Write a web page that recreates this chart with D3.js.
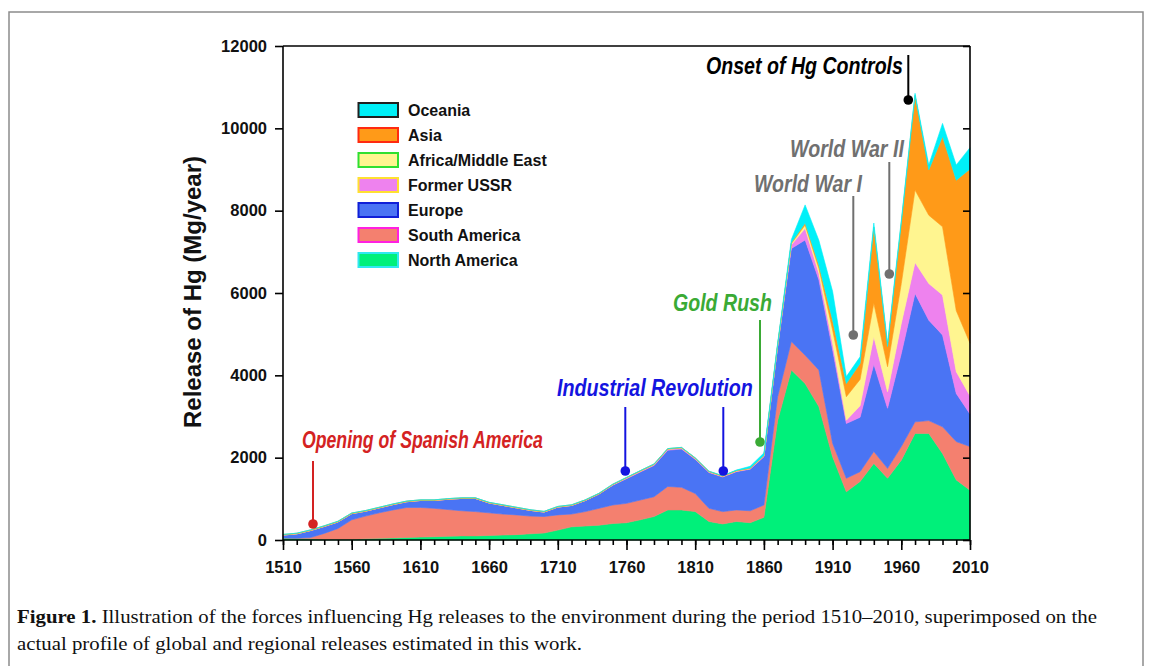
<!DOCTYPE html>
<html><head><meta charset="utf-8">
<script src="https://cdn.jsdelivr.net/npm/d3@7"></script>
<style>body{margin:0;background:#fff;} svg{display:block;}</style>
</head><body>
<svg id="c" width="1153" height="666"></svg>
<script>
// ---------------- DATA ----------------
const years = [1510,1520,1530,1540,1550,1560,1570,1580,1590,1600,
  1610,1620,1630,1640,1650,1660,1670,1680,1690,1700,
  1710,1720,1730,1740,1750,1760,1770,1780,1790,1800,
  1810,1820,1830,1840,1850,1860,1870,1880,1890,1900,
  1910,1920,1930,1940,1950,1960,1970,1980,1990,2000,2010];
const northAmerica = [50,40,30,20,20,20,30,40,50,60,
  70,80,90,100,100,110,120,130,150,170,
  240,320,340,360,400,420,490,570,730,730,
  690,450,390,450,420,550,2900,4130,3800,3240,
  2020,1170,1420,1860,1500,1940,2590,2590,2100,1460,1210];
const southAmerica = [0,5,30,140,260,470,550,620,680,730,
  720,690,650,610,590,550,510,480,430,400,
  370,310,350,410,450,470,480,480,570,550,
  440,320,300,280,290,300,580,690,690,890,
  330,330,240,290,240,330,280,310,650,930,1060];
const europe = [70,105,170,170,160,150,120,120,130,140,
  170,190,250,300,320,240,210,170,140,110,
  190,210,270,350,480,600,680,760,880,930,
  830,870,840,930,1010,1170,1220,2260,2800,2190,
  2270,1330,1320,2120,1460,2260,3120,2440,2230,1170,790];
const formerUSSR = [0,0,0,0,0,0,0,0,0,0,
  0,0,0,0,0,0,0,0,0,0,
  0,0,0,0,10,15,20,20,25,25,
  20,15,15,15,15,20,20,90,280,160,
  160,80,280,670,400,730,750,890,970,530,440];
const africaMiddleEast = [0,0,0,0,0,0,0,0,0,0,
  0,0,0,0,0,0,0,0,0,0,
  0,0,0,0,0,0,0,0,0,0,
  0,0,0,0,0,0,10,30,80,120,
  320,570,640,810,610,970,1760,1660,1660,1480,1280];
const asia = [15,15,15,15,15,15,15,15,15,15,
  15,15,15,15,15,15,15,15,15,15,
  15,15,15,15,15,15,15,15,15,15,
  15,15,15,15,15,15,10,20,50,80,
  240,320,390,1850,490,1470,2300,1100,2190,3170,4230];
const oceania = [0,0,0,0,0,0,0,0,0,0,
  0,0,0,0,0,0,0,0,0,0,
  0,0,0,0,0,0,0,0,0,0,
  0,0,0,10,40,60,40,80,440,600,
  700,170,160,100,80,60,50,120,320,370,520];

const seriesNames = ["North America","South America","Europe","Former USSR","Africa/Middle East","Asia","Oceania"];
const seriesValues = [northAmerica, southAmerica, europe, formerUSSR, africaMiddleEast, asia, oceania];
const fillColors = ["#00f07a","#f4806f","#4a74f4","#ee82ee","#fff590","#ff9a18","#00f0f8"];
const legendStroke = ["#30e8f0","#ff20e0","#1020d8","#ffe030","#30e030","#ff2a10","#202020"];

const yTicks = [0,2000,4000,6000,8000,10000,12000];
const xMajorTicks = [1510,1560,1610,1660,1710,1760,1810,1860,1910,1960,2010];

const annotations = [
  {text:"Opening of Spanish America", color:"#d42222", x:302, y:448, w:241, lx:313, y1:461, y2:524},
  {text:"Industrial Revolution", color:"#1414e0", x:557, y:396, w:196, lx:625.3, y1:407, y2:471},
  {text:"", color:"#1414e0", x:0, y:0, w:0, lx:723.3, y1:407, y2:471},
  {text:"Gold Rush", color:"#3aaa35", x:673, y:311, w:99, lx:760, y1:320, y2:442},
  {text:"World War I", color:"#707070", x:754, y:192, w:108, lx:853.3, y1:196, y2:335},
  {text:"World War II", color:"#707070", x:790, y:157, w:114, lx:889.3, y1:162, y2:274},
  {text:"Onset of Hg Controls", color:"#000000", x:706, y:74, w:197, lx:908.3, y1:55, y2:100}
];

const captionBold = "Figure 1.";
const captionLine1 = " Illustration of the forces influencing Hg releases to the environment during the period 1510\u20132010, superimposed on the";
const captionLine2 = "actual profile of global and regional releases estimated in this work.";

// ---------------- DRAW ----------------
const svg = d3.select("#c");
const sans = "'Liberation Sans', Arial, sans-serif";

// frame
svg.append("path").attr("d","M9,666V12H1143V666").attr("fill","none").attr("stroke","#8c8c8c").attr("stroke-width",1.5);

const x = d3.scaleLinear().domain([1510,2010]).range([283,970]);
const y = d3.scaleLinear().domain([0,12000]).range([540,46]);

const rows = years.map((yr,i)=>{
  const r = {year:yr};
  seriesNames.forEach((n,k)=> r[n] = seriesValues[k][i]);
  return r;
});
const stack = d3.stack().keys(seriesNames)(rows);
const area = d3.area().x(d=>x(d.data.year)).y0(d=>y(d[0])).y1(d=>y(d[1]));

svg.append("g").selectAll("path").data(stack).join("path")
  .attr("d", area)
  .attr("fill", (d,i)=>fillColors[i])
  .attr("stroke", (d,i)=>fillColors[i])
  .attr("stroke-width", 0.6);

// axes
const axisG = svg.append("g").attr("font-family", sans);
const minorYears = years;
axisG.append("g").attr("transform","translate(0,540)")
  .call(d3.axisBottom(x).tickValues(minorYears).tickSize(5).tickFormat(""))
  .call(g=>g.select(".domain").remove());
const xb = axisG.append("g").attr("transform","translate(0,540)")
  .call(d3.axisBottom(x).tickValues(xMajorTicks).tickSize(10).tickPadding(11).tickFormat(d3.format("d")));
xb.select(".domain").attr("d","M283,0H970");
const yl = axisG.append("g").attr("transform","translate(283,0)")
  .call(d3.axisLeft(y).tickValues(yTicks).tickSize(8).tickPadding(8).tickFormat(d3.format("d")));
yl.select(".domain").attr("d","M0,540V46");
const yr = axisG.append("g").attr("transform","translate(970,0)")
  .call(d3.axisRight(y).tickValues(yTicks).tickSize(-7).tickFormat(""));
yr.select(".domain").attr("d","M0,540V46");
axisG.append("line").attr("x1",283).attr("x2",970).attr("y1",46).attr("y2",46).attr("stroke","#000").attr("stroke-width",1.6);
axisG.selectAll(".domain, .tick line").attr("stroke","#000").attr("stroke-width",1.6);
axisG.selectAll(".tick text").attr("font-size",16.5).attr("font-weight","bold").attr("fill","#111").attr("font-family",sans);

// y axis title
svg.append("text").attr("transform","translate(201,292) rotate(-90)")
  .attr("text-anchor","middle").attr("font-family",sans).attr("font-weight","bold")
  .attr("font-size",24).attr("fill","#111").text("Release of Hg (Mg/year)");

// legend
const lg = svg.append("g").attr("font-family",sans);
for (let k=0;k<seriesNames.length;k++){
  const idx = seriesNames.length-1-k;
  const cy = 110 + k*25;
  lg.append("rect").attr("x",358.5).attr("y",cy-7).attr("width",39.5).attr("height",14)
    .attr("fill",fillColors[idx]).attr("stroke",legendStroke[idx]).attr("stroke-width",2);
  lg.append("text").attr("x",408).attr("y",cy).attr("dy","0.35em").attr("font-size",16)
    .attr("font-weight","bold").attr("fill","#111").text(seriesNames[idx]);
}

// annotations
const ag = svg.append("g");
annotations.forEach(a=>{
  ag.append("line").attr("x1",a.lx).attr("x2",a.lx).attr("y1",a.y1).attr("y2",a.y2)
    .attr("stroke",a.color).attr("stroke-width",2);
  ag.append("circle").attr("cx",a.lx).attr("cy",a.y2).attr("r",4.8).attr("fill",a.color);
  if (a.text){
    const t = ag.append("text").attr("font-family",sans).attr("font-weight","bold")
      .attr("font-style","italic").attr("font-size",23).attr("fill",a.color).text(a.text);
    const w = t.node().getComputedTextLength();
    t.attr("transform",`translate(${a.x},${a.y}) scale(${a.w/w},1)`);
  }
});

// caption
const serif = "'Liberation Serif', 'Times New Roman', serif";
const c1 = svg.append("text").attr("font-family",serif).attr("font-size",18.5).attr("fill","#111");
c1.append("tspan").attr("font-weight","bold").text(captionBold);
c1.append("tspan").text(captionLine1);
const w1 = c1.node().getComputedTextLength();
const sx = 1081 / w1;
c1.attr("transform",`translate(17,623) scale(${sx},1)`);
svg.append("text").attr("font-family",serif).attr("font-size",18.5).attr("fill","#111")
  .attr("transform",`translate(17,650) scale(${sx},1)`).text(captionLine2);
</script>
</body></html>
